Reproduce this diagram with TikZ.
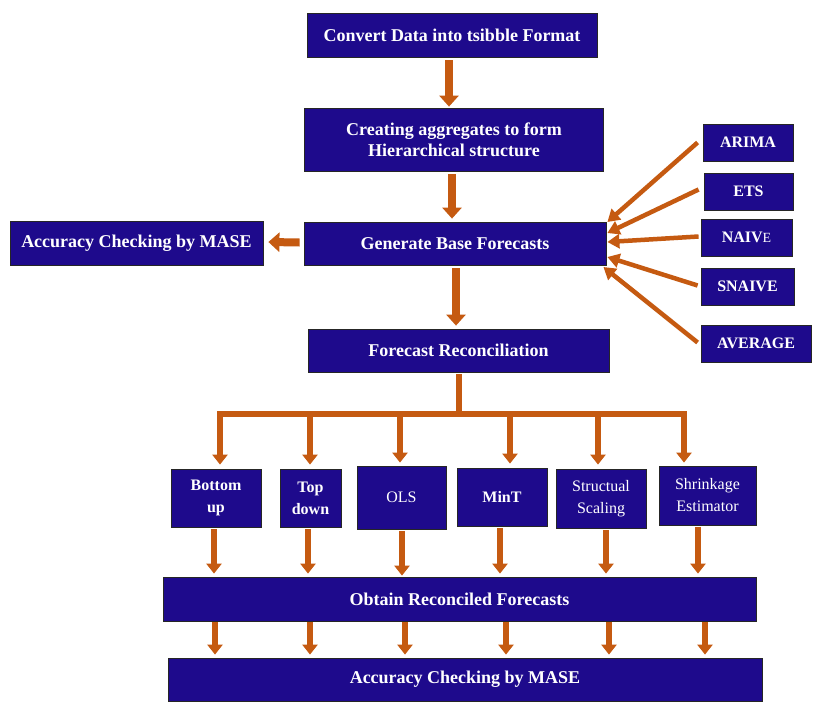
\documentclass[tikz,border=0pt]{standalone}
\usepackage{fontspec}
\setmainfont{Liberation Serif}
\usetikzlibrary{arrows.meta,calc}
\definecolor{boxblue}{RGB}{30,10,140}
\definecolor{arr}{RGB}{197,90,17}
\begin{document}
\begin{tikzpicture}[x=1pt,y=-1pt,
  box/.style={draw=black!85,line width=0.8pt,fill=boxblue,text=white,inner sep=0pt,align=center,font=\bfseries\fontsize{18}{21}\selectfont},
  sbox/.style={box,font=\bfseries\fontsize{16}{22}\selectfont},
  rbox/.style={box,font=\fontsize{16}{22}\selectfont},
  big/.style={draw=arr,line width=8pt,-{Triangle[width=19pt,length=11pt]}},
  mid/.style={draw=arr,line width=6.5pt,-{Triangle[width=15pt,length=10pt]}},
  diag/.style={draw=arr,line width=4.5pt,-{Triangle[width=14pt,length=12pt]}},
  tree/.style={draw=arr,line width=6pt}]
\fill[white] (0,0) rectangle (823,718);
\useasboundingbox (0,0) rectangle (823,718);

% main column
\node[box,minimum width=290pt,minimum height=44pt] (conv) at (452,35) {Convert Data into tsibble Format};
\node[box,minimum width=299pt,minimum height=63pt] (creat) at (454,139.5) {Creating aggregates to form\\Hierarchical structure};
\node[box,minimum width=302pt,minimum height=43pt] (gen) at (455,243.5) {Generate Base Forecasts};
\node[box,minimum width=253pt,minimum height=44pt] (accL) at (136.5,243) {Accuracy Checking by MASE};
\node[box,minimum width=301pt,minimum height=43pt] (frec) at (458.5,350.5) {Forecast Reconciliation};

% models
\node[sbox,minimum width=90pt,minimum height=37pt] (arima) at (748,142.5) {ARIMA};
\node[sbox,minimum width=89pt,minimum height=37pt] (ets) at (748.5,191.5) {ETS};
\node[sbox,minimum width=91pt,minimum height=37pt] (naive) at (746.5,237.5) {NAIV{\mdseries\fontsize{14}{14}\selectfont E}};
\node[sbox,minimum width=93pt,minimum height=37pt] (snaive) at (747.5,286.5) {SNAIVE};
\node[sbox,minimum width=110pt,minimum height=37pt] (avg) at (756,343.5) {AVERAGE};

% reconciliation methods
\node[sbox,minimum width=90pt,minimum height=58pt] (bu) at (216,498) {Bottom\\up};
\node[sbox,minimum width=61pt,minimum height=58pt] (td) at (310.5,498) {Top\\down};
\node[rbox,minimum width=89pt,minimum height=63pt] (ols) at (401.5,497.5) {OLS};
\node[sbox,minimum width=90pt,minimum height=58pt] (mint) at (502,497) {MinT};
\node[rbox,minimum width=90pt,minimum height=59pt] (ss) at (601,498.5) {Structual\\Scaling};
\node[rbox,minimum width=97pt,minimum height=59pt] (shr) at (707.5,495.5) {Shrinkage\\Estimator};

\node[box,minimum width=593pt,minimum height=44pt] (obt) at (459.5,599) {Obtain Reconciled Forecasts};
\node[box,minimum width=594pt,minimum height=43pt] (accB) at (465,679.5) {Accuracy Checking by MASE};

% main arrows
\draw[big] ($(conv.south)+(-3,3)$) -- ($(conv.south |- creat.north)+(-3,-1)$);
\draw[big] ($(creat.south)+(-2,3)$) -- ($(creat.south |- gen.north)+(-2,-3)$);
\draw[big] ($(gen.west)+(-4,-1)$) -- ($(accL.east)+(5,-1)$);
\draw[big] ($(gen.south)+(1,3)$) -- ($(gen.south |- frec.north)+(1,-3)$);

% model arrows
\draw[diag] ($(arima.west)+(-5,0)$) -- ($(gen.east)+(1,-21.5)$);
\draw[diag] ($(ets.west)+(-5,-2)$) -- ($(gen.east)+(1,-10.5)$);
\draw[diag] ($(naive.west)+(-2,-1)$) -- ($(gen.east)+(1,-1.5)$);
\draw[diag] ($(snaive.west)+(-3,-1)$) -- ($(gen.east)+(1,13.5)$);
\draw[diag] ($(avg.west)+(-3,-1)$) -- ($(gen.east)+(-3,23.5)$);

% tree
\coordinate (hub) at ($(frec.south)+(0,42)$);
\coordinate (d1) at ($(bu.north)+(4,-4)$);
\coordinate (d2) at ($(td.north)+(-0.5,-4)$);
\coordinate (d3) at ($(ols.north)+(-1.5,-3)$);
\coordinate (d4) at ($(mint.north)+(8,-4)$);
\coordinate (d5) at ($(ss.north)+(-3,-4)$);
\coordinate (d6) at ($(shr.north)+(-23.5,-3)$);
\draw[tree] ($(frec.south)+(0,2)$) -- ($(hub)+(0,3)$);
\draw[tree,line cap=rect] (d1 |- hub) -- (d6 |- hub);
\foreach \d in {d1,d2,d3,d4,d5,d6}
  \draw[mid] ($(\d |- hub)+(0,-3)$) -- (\d);

% methods to obtain
\draw[mid] ($(bu.south)+(-2,2)$) -- ($(bu.south |- obt.north)+(-2,-3)$);
\draw[mid] ($(td.south)+(-2.5,2)$) -- ($(td.south |- obt.north)+(-2.5,-3)$);
\draw[mid] ($(ols.south)+(0.5,2)$) -- ($(ols.south |- obt.north)+(0.5,-1)$);
\draw[mid] ($(mint.south)+(-2,2)$) -- ($(mint.south |- obt.north)+(-2,-3)$);
\draw[mid] ($(ss.south)+(5,2)$) -- ($(ss.south |- obt.north)+(5,-3)$);
\draw[mid] ($(shr.south)+(-9.5,2)$) -- ($(shr.south |- obt.north)+(-9.5,-3)$);

% obtain to accuracy
\foreach \dx in {-244.5,-149.5,-54.5,46.5,149.5,245.5}
  \draw[mid] ($(obt.south)+(\dx,1)$) -- ($(obt.south |- accB.north)+(\dx,-3)$);
\end{tikzpicture}
\end{document}
